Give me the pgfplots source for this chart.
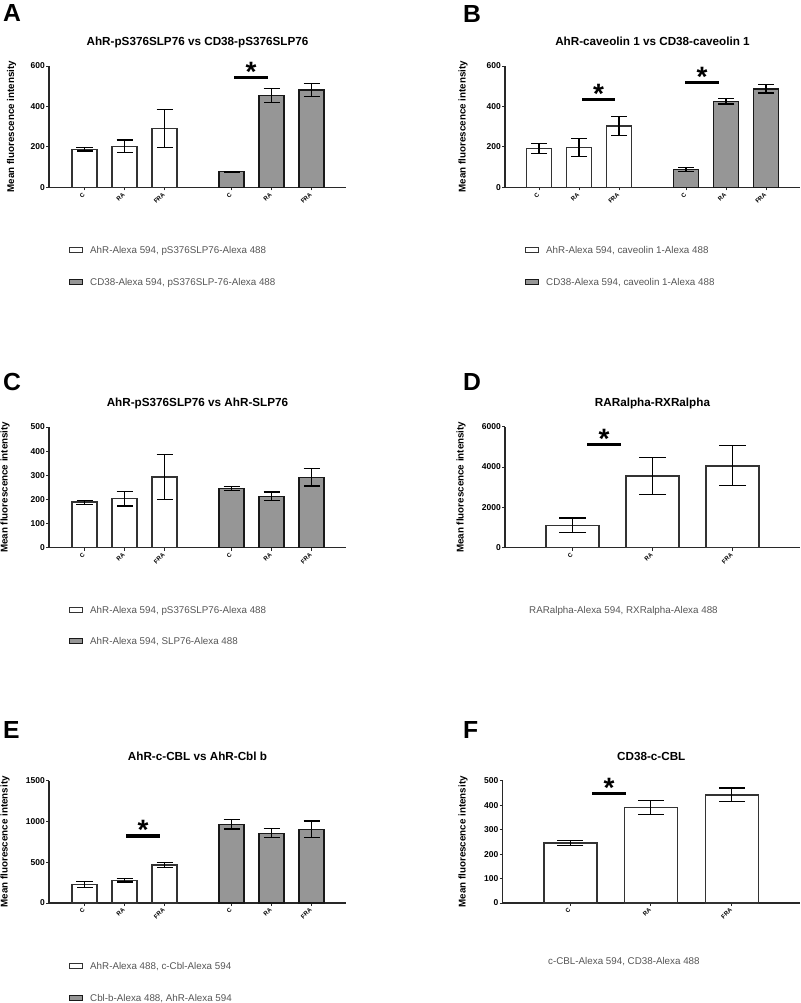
\documentclass[border=0pt]{standalone}
\usepackage{fontspec}
\setmainfont{Liberation Sans}
\usepackage{pgfplots}
\pgfplotsset{compat=1.18}
\newcommand{\fsz}[1]{\fontsize{#1}{#1}\selectfont}
\definecolor{bargray}{RGB}{150,150,150}
\definecolor{legtext}{RGB}{85,85,85}
\definecolor{axcol}{RGB}{40,40,40}
\tikzset{
  sigline/.style={line width=3.3pt, black},
  sigstar/.style={anchor=north, inner sep=0pt, font=\fsz{28}\bfseries},
}
\pgfplotsset{
  panel/.style={
    scale only axis, clip=false,
    axis lines=left,
    axis line style={-, line width=1.2pt, draw=axcol},
    tick align=outside, major tick length=3pt,
    tick style={line width=1pt, draw=axcol},
    xmin=0, ymin=0,
    /pgf/number format/assume math mode=true,
    /pgf/number format/1000 sep={},
    scaled y ticks=false,
    yticklabel style={font=\fsz{8.5}\bfseries, inner sep=1pt},
    xticklabel shift=2.5pt,
    xticklabel style={font=\fsz{6}\bfseries, rotate=45, anchor=east, inner sep=1pt},
    title style={font=\fsz{11.7}\bfseries, at={(axis description cs:0.5,1)}, anchor=base, yshift=14.5pt},
    ylabel={Mean fluorescence intensity},
    ylabel style={font=\fsz{9.8}\bfseries},
    legend style={draw=none, fill=none, inner sep=0pt, outer sep=0pt,
      font=\fsz{9.8}, text=legtext, row sep=24.7pt, column sep=7pt,
      nodes={inner sep=0pt, text height=7pt, text depth=0pt}},
    legend cell align=left,
  },
  wbar/.style={ybar, bar shift=0pt, fill=white, draw=black!80, line width=1.4pt,
    error bars/y dir=both, error bars/y explicit,
    error bars/error bar style={line width=1.2pt, black},
    error bars/error mark options={rotate=90, line width=1.2pt, black, mark size=8pt},
    legend image code/.code={\draw[fill=white, draw=black!80, line width=1.2pt] (0pt,-2.5pt) rectangle (13pt,2.5pt);}},
  gbar/.style={ybar, bar shift=0pt, fill=bargray, draw=black!90, line width=1.4pt,
    error bars/y dir=both, error bars/y explicit,
    error bars/error bar style={line width=1.2pt, black},
    error bars/error mark options={rotate=90, line width=1.2pt, black, mark size=8pt},
    legend image code/.code={\draw[fill=bargray, draw=black!90, line width=1.2pt] (0pt,-2.5pt) rectangle (13pt,2.5pt);}},
}
\begin{document}
\begin{tikzpicture}
\path[use as bounding box] (0,0) rectangle (800pt,-1003pt);
% panel letters
\node[anchor=base west, inner sep=0pt, font=\fsz{24.7}\bfseries] at (3pt,-21.7pt) {A};
\node[anchor=base west, inner sep=0pt, font=\fsz{24.7}\bfseries] at (463pt,-22.5pt) {B};
\node[anchor=base west, inner sep=0pt, font=\fsz{24.7}\bfseries] at (3pt,-390pt) {C};
\node[anchor=base west, inner sep=0pt, font=\fsz{24.7}\bfseries] at (463pt,-390.5pt) {D};
\node[anchor=base west, inner sep=0pt, font=\fsz{24.7}\bfseries] at (3pt,-738pt) {E};
\node[anchor=base west, inner sep=0pt, font=\fsz{24.7}\bfseries] at (463pt,-738pt) {F};

% ---------------- A ----------------
\begin{axis}[panel, at={(49pt,-187.3pt)}, anchor=south west, width=297pt, height=121.3pt,
  xmax=297, ymax=600, ytick={0,200,400,600},
  xtick={35.5,75.5,115.5,182.5,222.5,262.5}, xticklabels={C,RA,FRA,C,RA,FRA},
  title={AhR-pS376SLP76 vs CD38-pS376SLP76},
  ylabel style={at={([xshift=-37.5pt]axis description cs:0,0.5)}, anchor=center},
  legend style={at={([xshift=20pt,yshift=-78.5pt]axis description cs:0,0)}, anchor=west}]
\addplot[wbar, bar width=25] table[x=x,y=y,y error=e] {
x y e
35.5 188 8
75.5 203 31
115.5 291 93
};
\addlegendentry{AhR-Alexa 594, pS376SLP76-Alexa 488}
\addplot[gbar, bar width=25] table[x=x,y=y,y error=e] {
x y e
182.5 77 2
222.5 454 33
262.5 481 32
};
\addlegendentry{CD38-Alexa 594, pS376SLP-76-Alexa 488}
\draw[sigline] (axis cs:185,542) -- (axis cs:219,542);
\node[sigstar] at ([yshift=15.5pt]axis cs:202,542) {*};
\end{axis}

% ---------------- B ----------------
\begin{axis}[panel, at={(505pt,-187.3pt)}, anchor=south west, width=295pt, height=121.3pt,
  xmax=295, ymax=600, ytick={0,200,400,600},
  xtick={34,74,114,181,221,261}, xticklabels={C,RA,FRA,C,RA,FRA},
  title={AhR-caveolin 1 vs CD38-caveolin 1},
  ylabel style={at={([xshift=-42pt]axis description cs:0,0.5)}, anchor=center},
  legend style={at={([xshift=20pt,yshift=-78.5pt]axis description cs:0,0)}, anchor=west}]
\addplot[wbar, bar width=25] table[x=x,y=y,y error=e] {
x y e
34 193 25
74 196 44
114 304 46
};
\addlegendentry{AhR-Alexa 594, caveolin 1-Alexa 488}
\addplot[gbar, bar width=25] table[x=x,y=y,y error=e] {
x y e
181 87 9
221 425 13
261 487 21
};
\addlegendentry{CD38-Alexa 594, caveolin 1-Alexa 488}
\draw[sigline] (axis cs:77,435) -- (axis cs:110,435);
\node[sigstar] at ([yshift=15.5pt]axis cs:93.5,435) {*};
\draw[sigline] (axis cs:180,517) -- (axis cs:214,517);
\node[sigstar] at ([yshift=15.5pt]axis cs:197,517) {*};
\end{axis}

% ---------------- C ----------------
\begin{axis}[panel, at={(49pt,-547.5pt)}, anchor=south west, width=297pt, height=120.5pt,
  xmax=297, ymax=500, ytick={0,100,200,300,400,500},
  xtick={35.5,75.5,115.5,182.5,222.5,262.5}, xticklabels={C,RA,FRA,C,RA,FRA},
  title={AhR-pS376SLP76 vs AhR-SLP76},
  ylabel style={at={([xshift=-44pt]axis description cs:0,0.5)}, anchor=center},
  legend style={at={([xshift=20pt,yshift=-78pt]axis description cs:0,0)}, anchor=west}]
\addplot[wbar, bar width=25] table[x=x,y=y,y error=e] {
x y e
35.5 188 8
75.5 203 31
115.5 292 94
};
\addlegendentry{AhR-Alexa 594, pS376SLP76-Alexa 488}
\addplot[gbar, bar width=25] table[x=x,y=y,y error=e] {
x y e
182.5 244 9
222.5 212 18
262.5 291 36
};
\addlegendentry{AhR-Alexa 594, SLP76-Alexa 488}
\end{axis}

% ---------------- D ----------------
\begin{axis}[panel, at={(505pt,-547.7pt)}, anchor=south west, width=295pt, height=121pt,
  xmax=295, ymax=6000, ytick={0,2000,4000,6000},
  xtick={67.5,147.5,227.5}, xticklabels={C,RA,FRA},
  title={RARalpha-RXRalpha},
  ylabel style={at={([xshift=-44pt]axis description cs:0,0.5)}, anchor=center}]
\addplot[wbar, bar width=53, error bars/error mark options={rotate=90, line width=1.2pt, black, mark size=13.5pt}] table[x=x,y=y,y error=e] {
x y e
67.5 1110 360
147.5 3560 910
227.5 4060 990
};
\draw[sigline] (axis cs:82,5107) -- (axis cs:116,5107);
\node[sigstar] at ([yshift=15.5pt]axis cs:99,5107) {*};
\node[anchor=west, inner sep=0pt, font=\fsz{9.8}, text=legtext, text height=7pt, text depth=0pt]
  at ([xshift=24pt,yshift=-62.3pt]axis description cs:0,0) {RARalpha-Alexa 594, RXRalpha-Alexa 488};
\end{axis}

% ---------------- E ----------------
\begin{axis}[panel, at={(49pt,-903pt)}, anchor=south west, width=297pt, height=122.3pt,
  xmax=297, ymax=1500, ytick={0,500,1000,1500},
  xtick={35.5,75.5,115.5,182.5,222.5,262.5}, xticklabels={C,RA,FRA,C,RA,FRA},
  title={AhR-c-CBL vs AhR-Cbl b},
  ylabel style={at={([xshift=-44pt]axis description cs:0,0.5)}, anchor=center},
  legend style={at={([xshift=20pt,yshift=-79pt]axis description cs:0,0)}, anchor=west}]
\addplot[wbar, bar width=25] table[x=x,y=y,y error=e] {
x y e
35.5 227 36
75.5 278 20
115.5 468 33
};
\addlegendentry{AhR-Alexa 488, c-Cbl-Alexa 594}
\addplot[gbar, bar width=25] table[x=x,y=y,y error=e] {
x y e
182.5 965 57
222.5 856 53
262.5 905 102
};
\addlegendentry{Cbl-b-Alexa 488, AhR-Alexa 594}
\draw[sigline] (axis cs:77,822) -- (axis cs:111,822);
\node[sigstar] at ([yshift=15.5pt]axis cs:94,822) {*};
\end{axis}

% ---------------- F ----------------
\begin{axis}[panel, at={(502.5pt,-903pt)}, anchor=south west, width=297.5pt, height=122.3pt,
  xmax=297.5, ymax=500, ytick={0,100,200,300,400,500},
  xtick={67.8,148.3,229.3}, xticklabels={C,RA,FRA},
  title={CD38-c-CBL},
  ylabel style={at={([xshift=-39.5pt]axis description cs:0,0.5)}, anchor=center}]
\addplot[wbar, bar width=53, error bars/error mark options={rotate=90, line width=1.2pt, black, mark size=13pt}] table[x=x,y=y,y error=e] {
x y e
67.8 245 10
148.3 390 29
229.3 442 28
};
\draw[sigline] (axis cs:89.5,447) -- (axis cs:123.5,447);
\node[sigstar] at ([yshift=15.5pt]axis cs:106.5,447) {*};
\node[anchor=west, inner sep=0pt, font=\fsz{9.8}, text=legtext, text height=7pt, text depth=0pt]
  at ([xshift=45.5pt,yshift=-58pt]axis description cs:0,0) {c-CBL-Alexa 594, CD38-Alexa 488};
\end{axis}
\end{tikzpicture}
\end{document}
